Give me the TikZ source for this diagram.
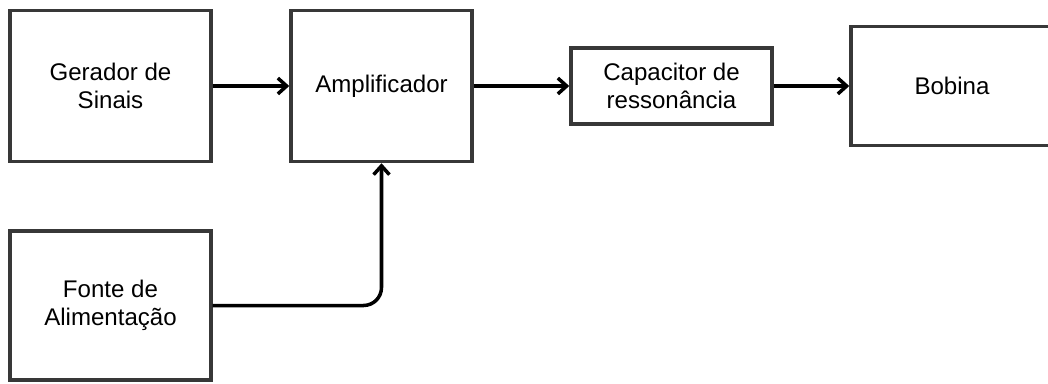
\documentclass[tikz,border=0pt]{standalone}
\usepackage{fontspec}
\setmainfont{Liberation Sans}
\usetikzlibrary{arrows.meta}
\begin{document}
\begin{tikzpicture}[x=0.02cm,y=-0.02cm,
  bloco/.style={draw=black!78,line width=2pt,fill=white,align=center,inner sep=0pt,
    font=\fontsize{13.7}{16}\selectfont},
  liga/.style={line width=2pt,-{Straight Barb[length=5pt,width=9pt]}}]
\useasboundingbox (0,0) rectangle (1048,383);
\node[bloco,minimum width=4.02cm,minimum height=3.02cm] (gerador) at (110.5,86) {Gerador de\\Sinais};
\node[bloco,minimum width=3.62cm,minimum height=3.02cm] (amplificador) at (381.5,86) {Amplificador};
\node[bloco,minimum width=4.02cm,minimum height=1.52cm] (capacitor) at (671.5,86) {Capacitor de\\ressonância};
\node[bloco,minimum width=4.04cm,minimum height=2.38cm] (bobina) at (952,86) {Bobina};
\node[bloco,minimum width=4.02cm,minimum height=2.98cm] (fonte) at (110.5,305.5) {Fonte de\\Alimentação};
\draw[liga] (gerador) -- (amplificador);
\draw[liga] (amplificador) -- (capacitor);
\draw[liga] (capacitor) -- (bobina);
\draw[liga,rounded corners=0.36cm] (fonte) -| (amplificador);
\end{tikzpicture}
\end{document}
